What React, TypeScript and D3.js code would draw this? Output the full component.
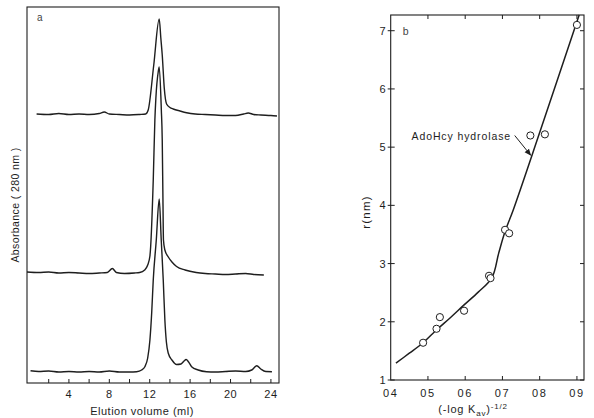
import * as d3 from "d3";

// ── panel a: elution profiles (ml vs. absorbance, arbitrary units, offset per trace) ──
const topVol = [0.8, 2, 3, 4, 5, 6, 7, 7.5, 8, 9, 10, 11, 11.6, 11.85, 12.4, 12.94, 13.1, 13.24, 13.44, 13.67, 14.0, 14.33, 15.0, 15.65, 16.5, 17.5, 18.5, 19.5, 20.5, 21.3, 21.75, 22.3, 23, 24, 24.6];
const topAbs = [2.69, 2.685, 2.695, 2.685, 2.69, 2.685, 2.695, 2.71, 2.69, 2.685, 2.68, 2.685, 2.69, 2.73, 3.18, 3.64, 3.45, 3.28, 2.95, 2.79, 2.755, 2.74, 2.72, 2.703, 2.69, 2.685, 2.68, 2.675, 2.675, 2.69, 2.70, 2.685, 2.68, 2.675, 2.67];

const midVol = [-0.15, 1, 2, 3, 4, 5, 6, 7, 7.8, 8.3, 8.7, 9.5, 10.5, 11.0, 11.5, 11.8, 12.02, 12.35, 12.51, 12.61, 12.84, 12.94, 13.15, 13.24, 13.31, 13.36, 13.5, 13.84, 14.2, 14.66, 15.5, 16.6, 17.5, 18.5, 19.5, 20.5, 21.5, 22.3, 23.3];
const midAbs = [1.11, 1.105, 1.11, 1.10, 1.105, 1.10, 1.095, 1.10, 1.105, 1.145, 1.105, 1.095, 1.10, 1.105, 1.13, 1.18, 1.27, 2.03, 2.63, 2.85, 3.11, 3.16, 2.73, 2.43, 1.83, 1.43, 1.33, 1.26, 1.21, 1.165, 1.13, 1.105, 1.095, 1.09, 1.085, 1.09, 1.095, 1.085, 1.08];

const botVol = [0.2, 1, 2, 3, 4, 5, 6, 7, 8, 9, 10, 10.7, 11.2, 11.52, 11.8, 12.02, 12.2, 12.35, 12.65, 12.94, 13.14, 13.34, 13.5, 13.65, 13.83, 14.2, 14.66, 15.1, 15.4, 15.6, 15.85, 16.15, 16.8, 17.63, 18.5, 19.5, 20.5, 21.5, 22.1, 22.6, 23.0, 23.5, 24.1];
const botAbs = [0.123, 0.115, 0.12, 0.11, 0.115, 0.11, 0.115, 0.11, 0.12, 0.11, 0.11, 0.113, 0.13, 0.163, 0.25, 0.43, 0.71, 1.03, 1.43, 1.84, 1.43, 1.03, 0.63, 0.41, 0.30, 0.23, 0.185, 0.19, 0.22, 0.235, 0.21, 0.163, 0.13, 0.113, 0.11, 0.115, 0.12, 0.115, 0.13, 0.173, 0.14, 0.115, 0.113];

const volTicks = [2, 4, 6, 8, 10, 12, 14, 16, 18, 20, 22, 24];
const volLabels = [4, 8, 12, 16, 20, 24];

// ── panel b: Stokes radius vs (-log Kav)^-1/2 ──
const kavX = [0.487, 0.523, 0.532, 0.597, 0.664, 0.668, 0.707, 0.718, 0.775, 0.814, 0.9];
const radiusY = [1.64, 1.88, 2.08, 2.19, 2.79, 2.75, 3.58, 3.52, 5.20, 5.22, 7.10];

const fitX = [0.414, 0.45, 0.487, 0.523, 0.56, 0.597, 0.635, 0.672, 0.69, 0.707, 0.729, 0.80, 0.906];
const fitY = [1.29, 1.46, 1.64, 1.86, 2.07, 2.29, 2.51, 2.76, 3.18, 3.55, 3.92, 5.25, 7.27];

const bXTicks = [0.4, 0.5, 0.6, 0.7, 0.8, 0.9];
const bXLabels = ["04", "05", "06", "07", "08", "09"];
const bYTicks = [1, 2, 3, 4, 5, 6, 7];

const INK = "#1e1e1e";
const FONT = "'Liberation Sans', Arial, sans-serif";

export default function App() {
  // panel a frame
  const ax = d3.scaleLinear().domain([-0.15, 24.8]).range([27, 279]);
  const ay = d3.scaleLinear().domain([0, 3.76]).range([383, 7]);
  const trace = d3.line<[number, number]>()
    .x((d) => ax(d[0]))
    .y((d) => ay(d[1]))
    .curve(d3.curveMonotoneX);
  const traces = [
    d3.zip(topVol, topAbs),
    d3.zip(midVol, midAbs),
    d3.zip(botVol, botAbs),
  ] as [number, number][][];

  // panel b frame
  const bx = d3.scaleLinear().domain([0.4, 0.919]).range([390.7, 584]);
  const by = d3.scaleLinear().domain([1, 7.27]).range([380, 15]);
  const fit = d3.line<[number, number]>()
    .x((d) => bx(d[0]))
    .y((d) => by(d[1]))
    .curve(d3.curveCatmullRom.alpha(0.5));
  const fitPts = d3.zip(fitX, fitY) as [number, number][];

  const [aL, aR] = ax.range();
  const [aB, aT] = ay.range();
  const [bL, bR] = bx.range();
  const [bB, bT] = by.range();

  // arrow of the annotation, in data units
  const arrowFrom = [0.733, 5.2];
  const arrowTo = [0.776, 4.86];

  return (
    <svg
      width={594}
      height={418}
      style={{ position: "absolute", left: 0, top: 0, background: "#fff" }}
      fontFamily={FONT}
    >
      <defs>
        <marker id="arrowhead" viewBox="0 0 10 10" refX="9" refY="5"
          markerWidth="7" markerHeight="7" orient="auto">
          <path d="M0,1 L10,5 L0,9 z" fill={INK} />
        </marker>
      </defs>

      {/* ── Panel a ── */}
      <rect x={aL} y={aT} width={aR - aL} height={aB - aT} fill="none" stroke={INK} strokeWidth={1.1} />
      {volTicks.map((t) => (
        <line key={t} x1={ax(t)} x2={ax(t)} y1={aB} y2={aB - 4} stroke={INK} strokeWidth={1} />
      ))}
      {volLabels.map((t) => (
        <text key={t} x={ax(t)} y={397.5} textAnchor="middle" fontSize={11} fill={INK} letterSpacing={0.5}>{t}</text>
      ))}
      {traces.map((pts, i) => (
        <path key={i} d={trace(pts) || ""} fill="none" stroke={INK} strokeWidth={1.4} strokeLinejoin="round" />
      ))}
      <text x={37} y={21} fontSize={10} fill="#444">a</text>
      <text x={142} y={415} textAnchor="middle" fontSize={11} fill={INK} letterSpacing={0.5}>
        Elution volume (ml)
      </text>
      <text transform="translate(19,205) rotate(-90)" textAnchor="middle" fontSize={10.5} fill={INK} letterSpacing={0.4}>
        Absorbance ( 280 nm )
      </text>

      {/* ── Panel b ── */}
      <rect x={bL} y={bT} width={bR - bL} height={bB - bT} fill="none" stroke={INK} strokeWidth={1.1} />
      {bYTicks.map((t) => (
        <g key={t}>
          <line x1={bL - 3} x2={bL + 4} y1={by(t)} y2={by(t)} stroke={INK} strokeWidth={1} />
          <line x1={bR} x2={bR - 4} y1={by(t)} y2={by(t)} stroke={INK} strokeWidth={1} />
          <text x={bL - 5} y={by(t) + 4} textAnchor="end" fontSize={11} fill={INK}>{t}</text>
        </g>
      ))}
      {bXTicks.map((t, i) => (
        <g key={t}>
          {i > 0 && <line x1={bx(t)} x2={bx(t)} y1={bB} y2={bB - 4} stroke={INK} strokeWidth={1} />}
          {i > 0 && <line x1={bx(t)} x2={bx(t)} y1={bT} y2={bT + 4} stroke={INK} strokeWidth={1} />}
          <text x={bx(t)} y={396.5} textAnchor="middle" fontSize={11} fill={INK} letterSpacing={1.5}>{bXLabels[i]}</text>
        </g>
      ))}
      <path d={fit(fitPts) || ""} fill="none" stroke={INK} strokeWidth={1.5} />
      {kavX.map((x, i) => (
        <circle key={i} cx={bx(x)} cy={by(radiusY[i])} r={3.6} fill="#fff" stroke={INK} strokeWidth={1} />
      ))}
      <text x={bL + 12} y={by(7) + 4} fontSize={10.5} fill="#444">b</text>
      <text x={411.5} y={139.5} fontSize={10.5} fill={INK} letterSpacing={0.9}>AdoHcy hydrolase</text>
      <line
        x1={bx(arrowFrom[0])} y1={by(arrowFrom[1])}
        x2={bx(arrowTo[0])} y2={by(arrowTo[1])}
        stroke={INK} strokeWidth={1} markerEnd="url(#arrowhead)"
      />
      <text transform="translate(370,212) rotate(-90)" textAnchor="middle" fontSize={11.5} fill={INK} letterSpacing={1.2}>
        r(nm)
      </text>
      <text x={473} y={413} textAnchor="middle" fontSize={11} fill={INK} letterSpacing={0.8}>
        (-log K<tspan fontSize={8} dy={2.5}>av</tspan><tspan dy={-2.5}>)</tspan>
        <tspan fontSize={8} dy={-4}>-1/2</tspan>
      </text>
    </svg>
  );
}
